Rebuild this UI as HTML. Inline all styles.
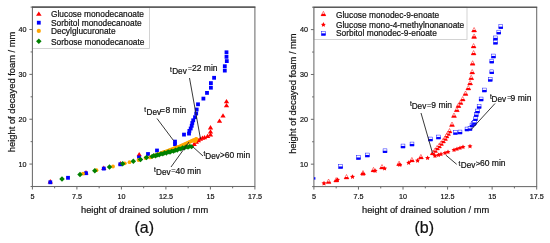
<!DOCTYPE html>
<html><head><meta charset="utf-8"><style>
html,body{margin:0;padding:0;background:#fff;}
svg{display:block;font-family:"Liberation Sans", sans-serif;will-change:transform;} text{stroke:#111;stroke-width:0.2px;fill:#111;}
</style></head><body>
<svg width="550" height="243" viewBox="0 0 550 243">
<rect width="550" height="243" fill="#fff"/>
<rect x="32.4" y="7.1" width="117.1" height="41.3" fill="#fff" stroke="#c8c8c8" stroke-width="0.8"/>
<rect x="313.9" y="7.2" width="153.10000000000002" height="32.199999999999996" fill="#fff" stroke="#c8c8c8" stroke-width="0.8"/>
<rect x="32.4" y="7.1" width="222.5" height="179.4" fill="none" stroke="#6a6a6a" stroke-width="1.05"/>
<line x1="31.9" y1="7.1" x2="255.4" y2="7.1" stroke="#4a4a4a" stroke-width="1.1"/>
<line x1="32.40" y1="186.5" x2="32.40" y2="189.5" stroke="#6a6a6a" stroke-width="1"/>
<text transform="translate(32.40,198.70) scale(0.9,1)" font-size="8" text-anchor="middle">5</text>
<line x1="54.65" y1="186.5" x2="54.65" y2="188.3" stroke="#6a6a6a" stroke-width="1"/>
<line x1="76.90" y1="186.5" x2="76.90" y2="189.5" stroke="#6a6a6a" stroke-width="1"/>
<text transform="translate(76.90,198.70) scale(0.9,1)" font-size="8" text-anchor="middle">7.5</text>
<line x1="99.15" y1="186.5" x2="99.15" y2="188.3" stroke="#6a6a6a" stroke-width="1"/>
<line x1="121.40" y1="186.5" x2="121.40" y2="189.5" stroke="#6a6a6a" stroke-width="1"/>
<text transform="translate(121.40,198.70) scale(0.9,1)" font-size="8" text-anchor="middle">10</text>
<line x1="143.65" y1="186.5" x2="143.65" y2="188.3" stroke="#6a6a6a" stroke-width="1"/>
<line x1="165.90" y1="186.5" x2="165.90" y2="189.5" stroke="#6a6a6a" stroke-width="1"/>
<text transform="translate(165.90,198.70) scale(0.9,1)" font-size="8" text-anchor="middle">12.5</text>
<line x1="188.15" y1="186.5" x2="188.15" y2="188.3" stroke="#6a6a6a" stroke-width="1"/>
<line x1="210.40" y1="186.5" x2="210.40" y2="189.5" stroke="#6a6a6a" stroke-width="1"/>
<text transform="translate(210.40,198.70) scale(0.9,1)" font-size="8" text-anchor="middle">15</text>
<line x1="232.65" y1="186.5" x2="232.65" y2="188.3" stroke="#6a6a6a" stroke-width="1"/>
<line x1="254.90" y1="186.5" x2="254.90" y2="189.5" stroke="#6a6a6a" stroke-width="1"/>
<text transform="translate(254.90,198.70) scale(0.9,1)" font-size="8" text-anchor="middle">17.5</text>
<line x1="30.599999999999998" y1="186.50" x2="32.4" y2="186.50" stroke="#6a6a6a" stroke-width="1"/>
<line x1="29.4" y1="164.07" x2="32.4" y2="164.07" stroke="#6a6a6a" stroke-width="1"/>
<text transform="translate(26.40,166.88) scale(0.9,1)" font-size="8" text-anchor="end">10</text>
<line x1="30.599999999999998" y1="141.65" x2="32.4" y2="141.65" stroke="#6a6a6a" stroke-width="1"/>
<line x1="29.4" y1="119.22" x2="32.4" y2="119.22" stroke="#6a6a6a" stroke-width="1"/>
<text transform="translate(26.40,122.02) scale(0.9,1)" font-size="8" text-anchor="end">20</text>
<line x1="30.599999999999998" y1="96.80" x2="32.4" y2="96.80" stroke="#6a6a6a" stroke-width="1"/>
<line x1="29.4" y1="74.37" x2="32.4" y2="74.37" stroke="#6a6a6a" stroke-width="1"/>
<text transform="translate(26.40,77.17) scale(0.9,1)" font-size="8" text-anchor="end">30</text>
<line x1="30.599999999999998" y1="51.95" x2="32.4" y2="51.95" stroke="#6a6a6a" stroke-width="1"/>
<line x1="29.4" y1="29.52" x2="32.4" y2="29.52" stroke="#6a6a6a" stroke-width="1"/>
<text transform="translate(26.40,32.32) scale(0.9,1)" font-size="8" text-anchor="end">40</text>
<line x1="30.599999999999998" y1="7.10" x2="32.4" y2="7.10" stroke="#6a6a6a" stroke-width="1"/>
<rect x="313.9" y="7.2" width="222.80000000000007" height="179.4" fill="none" stroke="#6a6a6a" stroke-width="1.05"/>
<line x1="313.4" y1="7.2" x2="537.2" y2="7.2" stroke="#4a4a4a" stroke-width="1.1"/>
<line x1="313.90" y1="186.6" x2="313.90" y2="189.6" stroke="#6a6a6a" stroke-width="1"/>
<text transform="translate(313.90,198.80) scale(0.9,1)" font-size="8" text-anchor="middle">5</text>
<line x1="336.18" y1="186.6" x2="336.18" y2="188.4" stroke="#6a6a6a" stroke-width="1"/>
<line x1="358.46" y1="186.6" x2="358.46" y2="189.6" stroke="#6a6a6a" stroke-width="1"/>
<text transform="translate(358.46,198.80) scale(0.9,1)" font-size="8" text-anchor="middle">7.5</text>
<line x1="380.74" y1="186.6" x2="380.74" y2="188.4" stroke="#6a6a6a" stroke-width="1"/>
<line x1="403.02" y1="186.6" x2="403.02" y2="189.6" stroke="#6a6a6a" stroke-width="1"/>
<text transform="translate(403.02,198.80) scale(0.9,1)" font-size="8" text-anchor="middle">10</text>
<line x1="425.30" y1="186.6" x2="425.30" y2="188.4" stroke="#6a6a6a" stroke-width="1"/>
<line x1="447.58" y1="186.6" x2="447.58" y2="189.6" stroke="#6a6a6a" stroke-width="1"/>
<text transform="translate(447.58,198.80) scale(0.9,1)" font-size="8" text-anchor="middle">12.5</text>
<line x1="469.86" y1="186.6" x2="469.86" y2="188.4" stroke="#6a6a6a" stroke-width="1"/>
<line x1="492.14" y1="186.6" x2="492.14" y2="189.6" stroke="#6a6a6a" stroke-width="1"/>
<text transform="translate(492.14,198.80) scale(0.9,1)" font-size="8" text-anchor="middle">15</text>
<line x1="514.42" y1="186.6" x2="514.42" y2="188.4" stroke="#6a6a6a" stroke-width="1"/>
<line x1="536.70" y1="186.6" x2="536.70" y2="189.6" stroke="#6a6a6a" stroke-width="1"/>
<text transform="translate(536.70,198.80) scale(0.9,1)" font-size="8" text-anchor="middle">17.5</text>
<line x1="312.09999999999997" y1="186.60" x2="313.9" y2="186.60" stroke="#6a6a6a" stroke-width="1"/>
<line x1="310.9" y1="164.17" x2="313.9" y2="164.17" stroke="#6a6a6a" stroke-width="1"/>
<text transform="translate(307.90,166.97) scale(0.9,1)" font-size="8" text-anchor="end">10</text>
<line x1="312.09999999999997" y1="141.75" x2="313.9" y2="141.75" stroke="#6a6a6a" stroke-width="1"/>
<line x1="310.9" y1="119.32" x2="313.9" y2="119.32" stroke="#6a6a6a" stroke-width="1"/>
<text transform="translate(307.90,122.12) scale(0.9,1)" font-size="8" text-anchor="end">20</text>
<line x1="312.09999999999997" y1="96.90" x2="313.9" y2="96.90" stroke="#6a6a6a" stroke-width="1"/>
<line x1="310.9" y1="74.47" x2="313.9" y2="74.47" stroke="#6a6a6a" stroke-width="1"/>
<text transform="translate(307.90,77.27) scale(0.9,1)" font-size="8" text-anchor="end">30</text>
<line x1="312.09999999999997" y1="52.05" x2="313.9" y2="52.05" stroke="#6a6a6a" stroke-width="1"/>
<line x1="310.9" y1="29.62" x2="313.9" y2="29.62" stroke="#6a6a6a" stroke-width="1"/>
<text transform="translate(307.90,32.42) scale(0.9,1)" font-size="8" text-anchor="end">40</text>
<line x1="312.09999999999997" y1="7.20" x2="313.9" y2="7.20" stroke="#6a6a6a" stroke-width="1"/>
<text x="144.6" y="213" font-size="9.3" text-anchor="middle" fill="#111" >height of drained solution / mm</text>
<text x="425.6" y="213" font-size="9.3" text-anchor="middle" fill="#111" >height of drained solution / mm</text>
<text transform="translate(15.2,91.9) rotate(-90)" font-size="9.36" text-anchor="middle" fill="#111">height of decayed foam / mm</text>
<text transform="translate(296.3,93.6) rotate(-90)" font-size="9.36" text-anchor="middle" fill="#111">height of decayed foam / mm</text>
<text x="144.2" y="232.8" font-size="16" text-anchor="middle" fill="#111" >(a)</text>
<text x="424.2" y="232.8" font-size="16" text-anchor="middle" fill="#111" >(b)</text>
<path d="M38.80 11.42L41.60 15.72L36.00 15.72Z" fill="#ff0000"/>
<text x="51" y="17.4" font-size="8.37" text-anchor="start" fill="#111" >Glucose monodecanoate</text>
<rect x="36.90" y="20.80" width="3.8" height="3.8" fill="#0000ff"/>
<text x="51" y="25.9" font-size="8.37" text-anchor="start" fill="#111" >Sorbitol monodecanoate</text>
<circle cx="38.80" cy="30.90" r="2.1" fill="#ffa500"/>
<text x="51" y="34.4" font-size="8.37" text-anchor="start" fill="#111" >Decylglucuronate</text>
<path d="M38.80 38.45L41.55 41.20L38.80 43.95L36.05 41.20Z" fill="#008000"/>
<text x="51" y="44.5" font-size="8.37" text-anchor="start" fill="#111" >Sorbose monodecanoate</text>
<path d="M323.40 11.31L325.70 15.66L321.10 15.66Z" fill="#fff" stroke="#ff0000" stroke-width="0.5" stroke-linejoin="miter"/>
<path d="M321.94 13.75L324.86 13.75L326.00 15.91L320.80 15.91Z" fill="#ff0000"/>
<text x="336" y="17.9" font-size="8.37" text-anchor="start" fill="#111" >Glucose monodec-9-enoate</text>
<polygon points="323.40,22.10 324.16,23.65 325.87,23.90 324.64,25.10 324.93,26.80 323.40,26.00 321.87,26.80 322.16,25.10 320.93,23.90 322.64,23.65" fill="#ff0000"/>
<text x="336" y="27.5" font-size="8.37" text-anchor="start" fill="#111" >Glucose mono-4-methylnonanoate</text>
<rect x="321.57" y="31.47" width="3.86" height="3.86" fill="#fff" stroke="#0000ff" stroke-width="0.45"/>
<rect x="321.35" y="33.35" width="4.30" height="2.20" fill="#0000ff"/>
<text x="336" y="35.5" font-size="8.37" text-anchor="start" fill="#111" >Sorbitol monodec-9-enoate</text>
<path d="M50.30 179.12L52.95 183.42L47.65 183.42Z" fill="#ff0000"/>
<path d="M86.00 170.12L88.65 174.42L83.35 174.42Z" fill="#ff0000"/>
<path d="M103.80 165.62L106.45 169.92L101.15 169.92Z" fill="#ff0000"/>
<path d="M120.50 161.02L123.15 165.32L117.85 165.32Z" fill="#ff0000"/>
<path d="M139.20 152.02L141.85 156.32L136.55 156.32Z" fill="#ff0000"/>
<path d="M194.20 141.62L196.85 145.92L191.55 145.92Z" fill="#ff0000"/>
<path d="M196.30 139.52L198.95 143.82L193.65 143.82Z" fill="#ff0000"/>
<path d="M198.40 138.02L201.05 142.32L195.75 142.32Z" fill="#ff0000"/>
<path d="M200.40 136.42L203.05 140.72L197.75 140.72Z" fill="#ff0000"/>
<path d="M202.50 135.42L205.15 139.72L199.85 139.72Z" fill="#ff0000"/>
<path d="M204.60 134.92L207.25 139.22L201.95 139.22Z" fill="#ff0000"/>
<path d="M207.60 133.82L210.25 138.12L204.95 138.12Z" fill="#ff0000"/>
<path d="M210.50 132.32L213.15 136.62L207.85 136.62Z" fill="#ff0000"/>
<path d="M210.50 129.22L213.15 133.52L207.85 133.52Z" fill="#ff0000"/>
<path d="M210.50 125.12L213.15 129.42L207.85 129.42Z" fill="#ff0000"/>
<path d="M219.50 118.42L222.15 122.72L216.85 122.72Z" fill="#ff0000"/>
<path d="M223.00 113.22L225.65 117.52L220.35 117.52Z" fill="#ff0000"/>
<path d="M226.50 102.92L229.15 107.22L223.85 107.22Z" fill="#ff0000"/>
<path d="M226.50 98.92L229.15 103.22L223.85 103.22Z" fill="#ff0000"/>
<rect x="48.40" y="180.40" width="3.8" height="3.8" fill="#0000ff"/>
<rect x="66.10" y="175.90" width="3.8" height="3.8" fill="#0000ff"/>
<rect x="84.10" y="171.30" width="3.8" height="3.8" fill="#0000ff"/>
<rect x="101.90" y="166.70" width="3.8" height="3.8" fill="#0000ff"/>
<rect x="118.40" y="162.40" width="3.8" height="3.8" fill="#0000ff"/>
<rect x="137.10" y="155.50" width="3.8" height="3.8" fill="#0000ff"/>
<rect x="146.10" y="152.10" width="3.8" height="3.8" fill="#0000ff"/>
<rect x="155.10" y="148.60" width="3.8" height="3.8" fill="#0000ff"/>
<rect x="173.10" y="139.70" width="3.8" height="3.8" fill="#0000ff"/>
<rect x="173.10" y="142.30" width="3.8" height="3.8" fill="#0000ff"/>
<rect x="182.10" y="132.70" width="3.8" height="3.8" fill="#0000ff"/>
<rect x="187.10" y="131.70" width="3.8" height="3.8" fill="#0000ff"/>
<rect x="187.50" y="129.00" width="3.8" height="3.8" fill="#0000ff"/>
<rect x="188.80" y="126.60" width="3.8" height="3.8" fill="#0000ff"/>
<rect x="189.80" y="123.90" width="3.8" height="3.8" fill="#0000ff"/>
<rect x="190.40" y="121.10" width="3.8" height="3.8" fill="#0000ff"/>
<rect x="191.30" y="118.40" width="3.8" height="3.8" fill="#0000ff"/>
<rect x="193.10" y="115.30" width="3.8" height="3.8" fill="#0000ff"/>
<rect x="194.30" y="111.60" width="3.8" height="3.8" fill="#0000ff"/>
<rect x="194.80" y="107.60" width="3.8" height="3.8" fill="#0000ff"/>
<rect x="196.10" y="102.40" width="3.8" height="3.8" fill="#0000ff"/>
<rect x="201.50" y="96.70" width="3.8" height="3.8" fill="#0000ff"/>
<rect x="205.10" y="91.00" width="3.8" height="3.8" fill="#0000ff"/>
<rect x="209.00" y="85.80" width="3.8" height="3.8" fill="#0000ff"/>
<rect x="209.00" y="81.20" width="3.8" height="3.8" fill="#0000ff"/>
<rect x="212.20" y="75.90" width="3.8" height="3.8" fill="#0000ff"/>
<rect x="222.90" y="68.70" width="3.8" height="3.8" fill="#0000ff"/>
<rect x="222.90" y="64.30" width="3.8" height="3.8" fill="#0000ff"/>
<rect x="224.90" y="59.20" width="3.8" height="3.8" fill="#0000ff"/>
<rect x="224.60" y="54.90" width="3.8" height="3.8" fill="#0000ff"/>
<rect x="224.60" y="50.40" width="3.8" height="3.8" fill="#0000ff"/>
<circle cx="83.00" cy="173.70" r="1.9" fill="#ffa500"/>
<circle cx="96.50" cy="170.20" r="1.9" fill="#ffa500"/>
<circle cx="113.00" cy="166.50" r="1.9" fill="#ffa500"/>
<circle cx="124.80" cy="163.30" r="1.9" fill="#ffa500"/>
<circle cx="129.50" cy="162.20" r="1.9" fill="#ffa500"/>
<circle cx="138.50" cy="160.00" r="1.9" fill="#ffa500"/>
<circle cx="145.50" cy="158.00" r="1.9" fill="#ffa500"/>
<circle cx="150.00" cy="157.40" r="1.9" fill="#ffa500"/>
<circle cx="151.30" cy="156.91" r="1.9" fill="#ffa500"/>
<circle cx="152.60" cy="156.41" r="1.9" fill="#ffa500"/>
<circle cx="153.90" cy="155.92" r="1.9" fill="#ffa500"/>
<circle cx="155.20" cy="155.42" r="1.9" fill="#ffa500"/>
<circle cx="156.50" cy="154.93" r="1.9" fill="#ffa500"/>
<circle cx="157.80" cy="154.44" r="1.9" fill="#ffa500"/>
<circle cx="159.10" cy="153.94" r="1.9" fill="#ffa500"/>
<circle cx="160.40" cy="153.45" r="1.9" fill="#ffa500"/>
<circle cx="161.70" cy="152.97" r="1.9" fill="#ffa500"/>
<circle cx="163.00" cy="152.49" r="1.9" fill="#ffa500"/>
<circle cx="164.30" cy="152.01" r="1.9" fill="#ffa500"/>
<circle cx="165.60" cy="151.53" r="1.9" fill="#ffa500"/>
<circle cx="166.90" cy="151.05" r="1.9" fill="#ffa500"/>
<circle cx="168.20" cy="150.57" r="1.9" fill="#ffa500"/>
<circle cx="169.50" cy="150.08" r="1.9" fill="#ffa500"/>
<circle cx="170.80" cy="149.61" r="1.9" fill="#ffa500"/>
<circle cx="172.10" cy="149.14" r="1.9" fill="#ffa500"/>
<circle cx="173.40" cy="148.68" r="1.9" fill="#ffa500"/>
<circle cx="174.70" cy="148.21" r="1.9" fill="#ffa500"/>
<circle cx="176.00" cy="147.74" r="1.9" fill="#ffa500"/>
<circle cx="177.30" cy="147.27" r="1.9" fill="#ffa500"/>
<circle cx="178.60" cy="146.80" r="1.9" fill="#ffa500"/>
<circle cx="179.90" cy="146.34" r="1.9" fill="#ffa500"/>
<circle cx="181.20" cy="145.76" r="1.9" fill="#ffa500"/>
<circle cx="182.50" cy="145.17" r="1.9" fill="#ffa500"/>
<circle cx="183.80" cy="144.59" r="1.9" fill="#ffa500"/>
<circle cx="185.10" cy="144.00" r="1.9" fill="#ffa500"/>
<circle cx="186.40" cy="143.41" r="1.9" fill="#ffa500"/>
<circle cx="187.70" cy="142.81" r="1.9" fill="#ffa500"/>
<circle cx="189.00" cy="142.20" r="1.9" fill="#ffa500"/>
<circle cx="190.30" cy="141.59" r="1.9" fill="#ffa500"/>
<circle cx="191.60" cy="140.99" r="1.9" fill="#ffa500"/>
<circle cx="192.90" cy="140.46" r="1.9" fill="#ffa500"/>
<circle cx="194.20" cy="139.97" r="1.9" fill="#ffa500"/>
<circle cx="195.50" cy="139.49" r="1.9" fill="#ffa500"/>
<circle cx="195.60" cy="139.40" r="1.9" fill="#ffa500"/>
<circle cx="196.40" cy="139.00" r="1.9" fill="#ffa500"/>
<circle cx="195.20" cy="141.20" r="1.9" fill="#ffa500"/>
<path d="M62.00 176.15L64.75 178.90L62.00 181.65L59.25 178.90Z" fill="#008000"/>
<path d="M80.00 171.75L82.75 174.50L80.00 177.25L77.25 174.50Z" fill="#008000"/>
<path d="M94.80 168.05L97.55 170.80L94.80 173.55L92.05 170.80Z" fill="#008000"/>
<path d="M109.50 164.25L112.25 167.00L109.50 169.75L106.75 167.00Z" fill="#008000"/>
<path d="M122.70 161.05L125.45 163.80L122.70 166.55L119.95 163.80Z" fill="#008000"/>
<path d="M133.30 158.45L136.05 161.20L133.30 163.95L130.55 161.20Z" fill="#008000"/>
<path d="M140.50 156.75L143.25 159.50L140.50 162.25L137.75 159.50Z" fill="#008000"/>
<path d="M146.50 154.75L149.25 157.50L146.50 160.25L143.75 157.50Z" fill="#008000"/>
<path d="M152.00 154.00L154.55 156.55L152.00 159.10L149.45 156.55Z" fill="#008000"/>
<path d="M153.80 152.98L156.35 155.53L153.80 158.08L151.25 155.53Z" fill="#008000"/>
<path d="M155.60 153.35L158.15 155.90L155.60 158.45L153.05 155.90Z" fill="#008000"/>
<path d="M157.40 152.29L159.95 154.84L157.40 157.39L154.85 154.84Z" fill="#008000"/>
<path d="M159.20 152.48L161.75 155.03L159.20 157.58L156.65 155.03Z" fill="#008000"/>
<path d="M161.00 151.27L163.55 153.82L161.00 156.37L158.45 153.82Z" fill="#008000"/>
<path d="M162.80 151.46L165.35 154.01L162.80 156.56L160.25 154.01Z" fill="#008000"/>
<path d="M164.60 150.29L167.15 152.84L164.60 155.39L162.05 152.84Z" fill="#008000"/>
<path d="M166.40 150.53L168.95 153.08L166.40 155.63L163.85 153.08Z" fill="#008000"/>
<path d="M168.20 149.36L170.75 151.91L168.20 154.46L165.65 151.91Z" fill="#008000"/>
<path d="M170.00 149.60L172.55 152.15L170.00 154.70L167.45 152.15Z" fill="#008000"/>
<path d="M171.80 148.47L174.35 151.02L171.80 153.57L169.25 151.02Z" fill="#008000"/>
<path d="M173.60 148.74L176.15 151.29L173.60 153.84L171.05 151.29Z" fill="#008000"/>
<path d="M175.40 147.56L177.95 150.11L175.40 152.66L172.85 150.11Z" fill="#008000"/>
<path d="M177.20 147.61L179.75 150.16L177.20 152.71L174.65 150.16Z" fill="#008000"/>
<path d="M179.00 146.26L181.55 148.81L179.00 151.36L176.45 148.81Z" fill="#008000"/>
<path d="M180.80 146.39L183.35 148.94L180.80 151.49L178.25 148.94Z" fill="#008000"/>
<path d="M182.60 145.21L185.15 147.76L182.60 150.31L180.05 147.76Z" fill="#008000"/>
<path d="M184.40 145.43L186.95 147.98L184.40 150.53L181.85 147.98Z" fill="#008000"/>
<path d="M186.20 144.26L188.75 146.81L186.20 149.36L183.65 146.81Z" fill="#008000"/>
<path d="M188.00 144.65L190.55 147.20L188.00 149.75L185.45 147.20Z" fill="#008000"/>
<path d="M189.80 143.63L192.35 146.18L189.80 148.73L187.25 146.18Z" fill="#008000"/>
<path d="M191.60 144.20L194.15 146.75L191.60 149.30L189.05 146.75Z" fill="#008000"/>
<clipPath id="cr"><rect x="313.9" y="7.2" width="222.80000000000007" height="179.4"/></clipPath>
<g clip-path="url(#cr)">
<path d="M474.10 27.51L476.40 31.86L471.80 31.86Z" fill="#fff" stroke="#ff0000" stroke-width="0.5" stroke-linejoin="miter"/>
<path d="M472.64 29.95L475.56 29.95L476.70 32.11L471.50 32.11Z" fill="#ff0000"/>
<path d="M474.10 33.91L476.40 38.26L471.80 38.26Z" fill="#fff" stroke="#ff0000" stroke-width="0.5" stroke-linejoin="miter"/>
<path d="M472.64 36.35L475.56 36.35L476.70 38.51L471.50 38.51Z" fill="#ff0000"/>
<path d="M473.60 43.51L475.90 47.86L471.30 47.86Z" fill="#fff" stroke="#ff0000" stroke-width="0.5" stroke-linejoin="miter"/>
<path d="M472.14 45.95L475.06 45.95L476.20 48.11L471.00 48.11Z" fill="#ff0000"/>
<path d="M473.60 50.51L475.90 54.86L471.30 54.86Z" fill="#fff" stroke="#ff0000" stroke-width="0.5" stroke-linejoin="miter"/>
<path d="M472.14 52.95L475.06 52.95L476.20 55.11L471.00 55.11Z" fill="#ff0000"/>
<path d="M472.60 60.71L474.90 65.06L470.30 65.06Z" fill="#fff" stroke="#ff0000" stroke-width="0.5" stroke-linejoin="miter"/>
<path d="M471.14 63.15L474.06 63.15L475.20 65.31L470.00 65.31Z" fill="#ff0000"/>
<path d="M472.20 69.51L474.50 73.86L469.90 73.86Z" fill="#fff" stroke="#ff0000" stroke-width="0.5" stroke-linejoin="miter"/>
<path d="M470.74 71.95L473.66 71.95L474.80 74.11L469.60 74.11Z" fill="#ff0000"/>
<path d="M471.20 75.21L473.50 79.56L468.90 79.56Z" fill="#fff" stroke="#ff0000" stroke-width="0.5" stroke-linejoin="miter"/>
<path d="M469.74 77.65L472.66 77.65L473.80 79.81L468.60 79.81Z" fill="#ff0000"/>
<path d="M470.10 80.51L472.40 84.86L467.80 84.86Z" fill="#fff" stroke="#ff0000" stroke-width="0.5" stroke-linejoin="miter"/>
<path d="M468.64 82.95L471.56 82.95L472.70 85.11L467.50 85.11Z" fill="#ff0000"/>
<path d="M468.30 85.51L470.60 89.86L466.00 89.86Z" fill="#fff" stroke="#ff0000" stroke-width="0.5" stroke-linejoin="miter"/>
<path d="M466.84 87.95L469.76 87.95L470.90 90.11L465.70 90.11Z" fill="#ff0000"/>
<path d="M465.50 91.01L467.80 95.36L463.20 95.36Z" fill="#fff" stroke="#ff0000" stroke-width="0.5" stroke-linejoin="miter"/>
<path d="M464.04 93.45L466.96 93.45L468.10 95.61L462.90 95.61Z" fill="#ff0000"/>
<path d="M462.70 96.51L465.00 100.86L460.40 100.86Z" fill="#fff" stroke="#ff0000" stroke-width="0.5" stroke-linejoin="miter"/>
<path d="M461.24 98.95L464.16 98.95L465.30 101.11L460.10 101.11Z" fill="#ff0000"/>
<path d="M460.50 100.01L462.80 104.36L458.20 104.36Z" fill="#fff" stroke="#ff0000" stroke-width="0.5" stroke-linejoin="miter"/>
<path d="M459.04 102.45L461.96 102.45L463.10 104.61L457.90 104.61Z" fill="#ff0000"/>
<path d="M458.40 103.11L460.70 107.46L456.10 107.46Z" fill="#fff" stroke="#ff0000" stroke-width="0.5" stroke-linejoin="miter"/>
<path d="M456.94 105.55L459.86 105.55L461.00 107.71L455.80 107.71Z" fill="#ff0000"/>
<path d="M456.80 107.21L459.10 111.56L454.50 111.56Z" fill="#fff" stroke="#ff0000" stroke-width="0.5" stroke-linejoin="miter"/>
<path d="M455.34 109.65L458.26 109.65L459.40 111.81L454.20 111.81Z" fill="#ff0000"/>
<path d="M454.00 113.01L456.30 117.36L451.70 117.36Z" fill="#fff" stroke="#ff0000" stroke-width="0.5" stroke-linejoin="miter"/>
<path d="M452.54 115.45L455.46 115.45L456.60 117.61L451.40 117.61Z" fill="#ff0000"/>
<path d="M452.00 122.01L454.30 126.36L449.70 126.36Z" fill="#fff" stroke="#ff0000" stroke-width="0.5" stroke-linejoin="miter"/>
<path d="M450.54 124.45L453.46 124.45L454.60 126.61L449.40 126.61Z" fill="#ff0000"/>
<path d="M449.50 128.51L451.80 132.86L447.20 132.86Z" fill="#fff" stroke="#ff0000" stroke-width="0.5" stroke-linejoin="miter"/>
<path d="M448.04 130.95L450.96 130.95L452.10 133.11L446.90 133.11Z" fill="#ff0000"/>
<path d="M448.00 131.01L450.30 135.36L445.70 135.36Z" fill="#fff" stroke="#ff0000" stroke-width="0.5" stroke-linejoin="miter"/>
<path d="M446.54 133.45L449.46 133.45L450.60 135.61L445.40 135.61Z" fill="#ff0000"/>
<path d="M446.50 133.51L448.80 137.86L444.20 137.86Z" fill="#fff" stroke="#ff0000" stroke-width="0.5" stroke-linejoin="miter"/>
<path d="M445.04 135.95L447.96 135.95L449.10 138.11L443.90 138.11Z" fill="#ff0000"/>
<path d="M445.00 136.01L447.30 140.36L442.70 140.36Z" fill="#fff" stroke="#ff0000" stroke-width="0.5" stroke-linejoin="miter"/>
<path d="M443.54 138.45L446.46 138.45L447.60 140.61L442.40 140.61Z" fill="#ff0000"/>
<path d="M443.00 138.51L445.30 142.86L440.70 142.86Z" fill="#fff" stroke="#ff0000" stroke-width="0.5" stroke-linejoin="miter"/>
<path d="M441.54 140.95L444.46 140.95L445.60 143.11L440.40 143.11Z" fill="#ff0000"/>
<path d="M441.00 141.01L443.30 145.36L438.70 145.36Z" fill="#fff" stroke="#ff0000" stroke-width="0.5" stroke-linejoin="miter"/>
<path d="M439.54 143.45L442.46 143.45L443.60 145.61L438.40 145.61Z" fill="#ff0000"/>
<path d="M439.00 143.51L441.30 147.86L436.70 147.86Z" fill="#fff" stroke="#ff0000" stroke-width="0.5" stroke-linejoin="miter"/>
<path d="M437.54 145.95L440.46 145.95L441.60 148.11L436.40 148.11Z" fill="#ff0000"/>
<path d="M437.00 145.51L439.30 149.86L434.70 149.86Z" fill="#fff" stroke="#ff0000" stroke-width="0.5" stroke-linejoin="miter"/>
<path d="M435.54 147.95L438.46 147.95L439.60 150.11L434.40 150.11Z" fill="#ff0000"/>
<path d="M435.00 148.01L437.30 152.36L432.70 152.36Z" fill="#fff" stroke="#ff0000" stroke-width="0.5" stroke-linejoin="miter"/>
<path d="M433.54 150.45L436.46 150.45L437.60 152.61L432.40 152.61Z" fill="#ff0000"/>
<path d="M432.80 150.31L435.10 154.66L430.50 154.66Z" fill="#fff" stroke="#ff0000" stroke-width="0.5" stroke-linejoin="miter"/>
<path d="M431.34 152.75L434.26 152.75L435.40 154.91L430.20 154.91Z" fill="#ff0000"/>
<path d="M420.90 154.41L423.20 158.76L418.60 158.76Z" fill="#fff" stroke="#ff0000" stroke-width="0.5" stroke-linejoin="miter"/>
<path d="M419.44 156.85L422.36 156.85L423.50 159.01L418.30 159.01Z" fill="#ff0000"/>
<path d="M411.90 157.41L414.20 161.76L409.60 161.76Z" fill="#fff" stroke="#ff0000" stroke-width="0.5" stroke-linejoin="miter"/>
<path d="M410.44 159.85L413.36 159.85L414.50 162.01L409.30 162.01Z" fill="#ff0000"/>
<path d="M399.10 161.11L401.40 165.46L396.80 165.46Z" fill="#fff" stroke="#ff0000" stroke-width="0.5" stroke-linejoin="miter"/>
<path d="M397.64 163.55L400.56 163.55L401.70 165.71L396.50 165.71Z" fill="#ff0000"/>
<path d="M382.00 164.51L384.30 168.86L379.70 168.86Z" fill="#fff" stroke="#ff0000" stroke-width="0.5" stroke-linejoin="miter"/>
<path d="M380.54 166.95L383.46 166.95L384.60 169.11L379.40 169.11Z" fill="#ff0000"/>
<path d="M373.50 167.31L375.80 171.66L371.20 171.66Z" fill="#fff" stroke="#ff0000" stroke-width="0.5" stroke-linejoin="miter"/>
<path d="M372.04 169.75L374.96 169.75L376.10 171.91L370.90 171.91Z" fill="#ff0000"/>
<path d="M363.00 170.51L365.30 174.86L360.70 174.86Z" fill="#fff" stroke="#ff0000" stroke-width="0.5" stroke-linejoin="miter"/>
<path d="M361.54 172.95L364.46 172.95L365.60 175.11L360.40 175.11Z" fill="#ff0000"/>
<path d="M346.50 174.51L348.80 178.86L344.20 178.86Z" fill="#fff" stroke="#ff0000" stroke-width="0.5" stroke-linejoin="miter"/>
<path d="M345.04 176.95L347.96 176.95L349.10 179.11L343.90 179.11Z" fill="#ff0000"/>
<path d="M336.20 177.51L338.50 181.86L333.90 181.86Z" fill="#fff" stroke="#ff0000" stroke-width="0.5" stroke-linejoin="miter"/>
<path d="M334.74 179.95L337.66 179.95L338.80 182.11L333.60 182.11Z" fill="#ff0000"/>
<path d="M328.60 179.01L330.90 183.36L326.30 183.36Z" fill="#fff" stroke="#ff0000" stroke-width="0.5" stroke-linejoin="miter"/>
<path d="M327.14 181.45L330.06 181.45L331.20 183.61L326.00 183.61Z" fill="#ff0000"/>
<polygon points="324.00,180.80 324.76,182.35 326.47,182.60 325.24,183.80 325.53,185.50 324.00,184.70 322.47,185.50 322.76,183.80 321.53,182.60 323.24,182.35" fill="#ff0000"/>
<polygon points="337.50,177.20 338.26,178.75 339.97,179.00 338.74,180.20 339.03,181.90 337.50,181.10 335.97,181.90 336.26,180.20 335.03,179.00 336.74,178.75" fill="#ff0000"/>
<polygon points="352.50,174.20 353.26,175.75 354.97,176.00 353.74,177.20 354.03,178.90 352.50,178.10 350.97,178.90 351.26,177.20 350.03,176.00 351.74,175.75" fill="#ff0000"/>
<polygon points="363.00,171.20 363.76,172.75 365.47,173.00 364.24,174.20 364.53,175.90 363.00,175.10 361.47,175.90 361.76,174.20 360.53,173.00 362.24,172.75" fill="#ff0000"/>
<polygon points="375.10,168.20 375.86,169.75 377.57,170.00 376.34,171.20 376.63,172.90 375.10,172.10 373.57,172.90 373.86,171.20 372.63,170.00 374.34,169.75" fill="#ff0000"/>
<polygon points="384.60,165.90 385.36,167.45 387.07,167.70 385.84,168.90 386.13,170.60 384.60,169.80 383.07,170.60 383.36,168.90 382.13,167.70 383.84,167.45" fill="#ff0000"/>
<polygon points="399.80,162.20 400.56,163.75 402.27,164.00 401.04,165.20 401.33,166.90 399.80,166.10 398.27,166.90 398.56,165.20 397.33,164.00 399.04,163.75" fill="#ff0000"/>
<polygon points="408.70,160.20 409.46,161.75 411.17,162.00 409.94,163.20 410.23,164.90 408.70,164.10 407.17,164.90 407.46,163.20 406.23,162.00 407.94,161.75" fill="#ff0000"/>
<polygon points="417.60,158.00 418.36,159.55 420.07,159.80 418.84,161.00 419.13,162.70 417.60,161.90 416.07,162.70 416.36,161.00 415.13,159.80 416.84,159.55" fill="#ff0000"/>
<polygon points="427.60,155.40 428.36,156.95 430.07,157.20 428.84,158.40 429.13,160.10 427.60,159.30 426.07,160.10 426.36,158.40 425.13,157.20 426.84,156.95" fill="#ff0000"/>
<polygon points="435.00,153.40 435.76,154.95 437.47,155.20 436.24,156.40 436.53,158.10 435.00,157.30 433.47,158.10 433.76,156.40 432.53,155.20 434.24,154.95" fill="#ff0000"/>
<polygon points="438.50,152.40 439.26,153.95 440.97,154.20 439.74,155.40 440.03,157.10 438.50,156.30 436.97,157.10 437.26,155.40 436.03,154.20 437.74,153.95" fill="#ff0000"/>
<polygon points="441.00,151.60 441.76,153.15 443.47,153.40 442.24,154.60 442.53,156.30 441.00,155.50 439.47,156.30 439.76,154.60 438.53,153.40 440.24,153.15" fill="#ff0000"/>
<polygon points="445.00,150.40 445.76,151.95 447.47,152.20 446.24,153.40 446.53,155.10 445.00,154.30 443.47,155.10 443.76,153.40 442.53,152.20 444.24,151.95" fill="#ff0000"/>
<polygon points="448.00,149.40 448.76,150.95 450.47,151.20 449.24,152.40 449.53,154.10 448.00,153.30 446.47,154.10 446.76,152.40 445.53,151.20 447.24,150.95" fill="#ff0000"/>
<polygon points="454.00,147.40 454.76,148.95 456.47,149.20 455.24,150.40 455.53,152.10 454.00,151.30 452.47,152.10 452.76,150.40 451.53,149.20 453.24,148.95" fill="#ff0000"/>
<polygon points="457.00,146.40 457.76,147.95 459.47,148.20 458.24,149.40 458.53,151.10 457.00,150.30 455.47,151.10 455.76,149.40 454.53,148.20 456.24,147.95" fill="#ff0000"/>
<polygon points="460.00,145.40 460.76,146.95 462.47,147.20 461.24,148.40 461.53,150.10 460.00,149.30 458.47,150.10 458.76,148.40 457.53,147.20 459.24,146.95" fill="#ff0000"/>
<polygon points="463.00,144.40 463.76,145.95 465.47,146.20 464.24,147.40 464.53,149.10 463.00,148.30 461.47,149.10 461.76,147.40 460.53,146.20 462.24,145.95" fill="#ff0000"/>
<polygon points="470.00,143.70 470.76,145.25 472.47,145.50 471.24,146.70 471.53,148.40 470.00,147.60 468.47,148.40 468.76,146.70 467.53,145.50 469.24,145.25" fill="#ff0000"/>
<rect x="338.77" y="164.57" width="3.86" height="3.86" fill="#fff" stroke="#0000ff" stroke-width="0.45"/>
<rect x="338.55" y="166.45" width="4.30" height="2.20" fill="#0000ff"/>
<rect x="356.57" y="155.57" width="3.86" height="3.86" fill="#fff" stroke="#0000ff" stroke-width="0.45"/>
<rect x="356.35" y="157.45" width="4.30" height="2.20" fill="#0000ff"/>
<rect x="365.37" y="153.07" width="3.86" height="3.86" fill="#fff" stroke="#0000ff" stroke-width="0.45"/>
<rect x="365.15" y="154.95" width="4.30" height="2.20" fill="#0000ff"/>
<rect x="383.07" y="148.87" width="3.86" height="3.86" fill="#fff" stroke="#0000ff" stroke-width="0.45"/>
<rect x="382.85" y="150.75" width="4.30" height="2.20" fill="#0000ff"/>
<rect x="401.07" y="144.07" width="3.86" height="3.86" fill="#fff" stroke="#0000ff" stroke-width="0.45"/>
<rect x="400.85" y="145.95" width="4.30" height="2.20" fill="#0000ff"/>
<rect x="410.07" y="142.07" width="3.86" height="3.86" fill="#fff" stroke="#0000ff" stroke-width="0.45"/>
<rect x="409.85" y="143.95" width="4.30" height="2.20" fill="#0000ff"/>
<rect x="428.57" y="137.07" width="3.86" height="3.86" fill="#fff" stroke="#0000ff" stroke-width="0.45"/>
<rect x="428.35" y="138.95" width="4.30" height="2.20" fill="#0000ff"/>
<rect x="436.57" y="135.07" width="3.86" height="3.86" fill="#fff" stroke="#0000ff" stroke-width="0.45"/>
<rect x="436.35" y="136.95" width="4.30" height="2.20" fill="#0000ff"/>
<rect x="453.57" y="130.57" width="3.86" height="3.86" fill="#fff" stroke="#0000ff" stroke-width="0.45"/>
<rect x="453.35" y="132.45" width="4.30" height="2.20" fill="#0000ff"/>
<rect x="458.07" y="130.07" width="3.86" height="3.86" fill="#fff" stroke="#0000ff" stroke-width="0.45"/>
<rect x="457.85" y="131.95" width="4.30" height="2.20" fill="#0000ff"/>
<rect x="465.07" y="127.07" width="3.86" height="3.86" fill="#fff" stroke="#0000ff" stroke-width="0.45"/>
<rect x="464.85" y="128.95" width="4.30" height="2.20" fill="#0000ff"/>
<rect x="468.07" y="126.57" width="3.86" height="3.86" fill="#fff" stroke="#0000ff" stroke-width="0.45"/>
<rect x="467.85" y="128.45" width="4.30" height="2.20" fill="#0000ff"/>
<rect x="470.07" y="123.07" width="3.86" height="3.86" fill="#fff" stroke="#0000ff" stroke-width="0.45"/>
<rect x="469.85" y="124.95" width="4.30" height="2.20" fill="#0000ff"/>
<rect x="471.77" y="121.77" width="3.86" height="3.86" fill="#fff" stroke="#0000ff" stroke-width="0.45"/>
<rect x="471.55" y="123.65" width="4.30" height="2.20" fill="#0000ff"/>
<rect x="472.57" y="120.57" width="3.86" height="3.86" fill="#fff" stroke="#0000ff" stroke-width="0.45"/>
<rect x="472.35" y="122.45" width="4.30" height="2.20" fill="#0000ff"/>
<rect x="473.47" y="116.87" width="3.86" height="3.86" fill="#fff" stroke="#0000ff" stroke-width="0.45"/>
<rect x="473.25" y="118.75" width="4.30" height="2.20" fill="#0000ff"/>
<rect x="474.27" y="112.77" width="3.86" height="3.86" fill="#fff" stroke="#0000ff" stroke-width="0.45"/>
<rect x="474.05" y="114.65" width="4.30" height="2.20" fill="#0000ff"/>
<rect x="475.57" y="109.07" width="3.86" height="3.86" fill="#fff" stroke="#0000ff" stroke-width="0.45"/>
<rect x="475.35" y="110.95" width="4.30" height="2.20" fill="#0000ff"/>
<rect x="477.17" y="104.47" width="3.86" height="3.86" fill="#fff" stroke="#0000ff" stroke-width="0.45"/>
<rect x="476.95" y="106.35" width="4.30" height="2.20" fill="#0000ff"/>
<rect x="479.17" y="97.07" width="3.86" height="3.86" fill="#fff" stroke="#0000ff" stroke-width="0.45"/>
<rect x="478.95" y="98.95" width="4.30" height="2.20" fill="#0000ff"/>
<rect x="482.47" y="88.07" width="3.86" height="3.86" fill="#fff" stroke="#0000ff" stroke-width="0.45"/>
<rect x="482.25" y="89.95" width="4.30" height="2.20" fill="#0000ff"/>
<rect x="488.27" y="77.37" width="3.86" height="3.86" fill="#fff" stroke="#0000ff" stroke-width="0.45"/>
<rect x="488.05" y="79.25" width="4.30" height="2.20" fill="#0000ff"/>
<rect x="489.87" y="69.87" width="3.86" height="3.86" fill="#fff" stroke="#0000ff" stroke-width="0.45"/>
<rect x="489.65" y="71.75" width="4.30" height="2.20" fill="#0000ff"/>
<rect x="489.87" y="59.17" width="3.86" height="3.86" fill="#fff" stroke="#0000ff" stroke-width="0.45"/>
<rect x="489.65" y="61.05" width="4.30" height="2.20" fill="#0000ff"/>
<rect x="491.57" y="54.07" width="3.86" height="3.86" fill="#fff" stroke="#0000ff" stroke-width="0.45"/>
<rect x="491.35" y="55.95" width="4.30" height="2.20" fill="#0000ff"/>
<rect x="493.57" y="40.27" width="3.86" height="3.86" fill="#fff" stroke="#0000ff" stroke-width="0.45"/>
<rect x="493.35" y="42.15" width="4.30" height="2.20" fill="#0000ff"/>
<rect x="493.57" y="35.97" width="3.86" height="3.86" fill="#fff" stroke="#0000ff" stroke-width="0.45"/>
<rect x="493.35" y="37.85" width="4.30" height="2.20" fill="#0000ff"/>
<rect x="496.87" y="30.17" width="3.86" height="3.86" fill="#fff" stroke="#0000ff" stroke-width="0.45"/>
<rect x="496.65" y="32.05" width="4.30" height="2.20" fill="#0000ff"/>
<rect x="498.87" y="24.77" width="3.86" height="3.86" fill="#fff" stroke="#0000ff" stroke-width="0.45"/>
<rect x="498.65" y="26.65" width="4.30" height="2.20" fill="#0000ff"/>
</g>
<rect x="314.1" y="177.2" width="1.3" height="2.4" fill="#0000ff"/>
<line x1="157" y1="118.5" x2="173.5" y2="140.5" stroke="#222" stroke-width="0.9"/>
<line x1="189.5" y1="78" x2="200.5" y2="139" stroke="#222" stroke-width="0.9"/>
<line x1="171" y1="167" x2="189" y2="142" stroke="#222" stroke-width="0.9"/>
<line x1="192.5" y1="146.5" x2="203" y2="156" stroke="#222" stroke-width="0.9"/>
<line x1="421" y1="113" x2="432.5" y2="153" stroke="#222" stroke-width="0.9"/>
<line x1="495" y1="103.5" x2="471.2" y2="129.5" stroke="#222" stroke-width="0.9"/>
<line x1="445.8" y1="155.1" x2="456.7" y2="164.3" stroke="#222" stroke-width="0.9"/>
<text x="170.1" y="71.5" font-size="6.5">t</text>
<text x="172.2" y="73.6" font-size="8.2">Dev</text>
<text x="187.9" y="71.0" font-size="6.6">=</text>
<text x="192.0" y="71.4" font-size="8.5">22 min</text>
<text x="144.2" y="111.9" font-size="6.5">t</text>
<text x="146.5" y="114.7" font-size="8.2">Dev</text>
<text x="160.0" y="113.3" font-size="8.4">=</text>
<text x="165.5" y="113.0" font-size="8.5">8 min</text>
<text x="153.9" y="171.7" font-size="6.5">t</text>
<text x="156.0" y="174.6" font-size="8.2">Dev</text>
<text x="171.2" y="173.1" font-size="7.4">=</text>
<text x="175.5" y="173.9" font-size="8.5">40 min</text>
<text x="203.6" y="156.3" font-size="6.5">t</text>
<text x="205.3" y="159.4" font-size="8.2">Dev</text>
<text x="220.0" y="158.1" font-size="8.2">&gt;</text>
<text x="224.7" y="157.8" font-size="8.5">60 min</text>
<text x="410.1" y="106.3" font-size="6.5">t</text>
<text x="411.7" y="109.0" font-size="8.2">Dev</text>
<text x="427.0" y="107.6" font-size="7.0">=</text>
<text x="431.3" y="107.5" font-size="8.5">9 min</text>
<text x="490.0" y="99.3" font-size="6.5">t</text>
<text x="491.5" y="102.0" font-size="8.2">Dev</text>
<text x="507.3" y="100.2" font-size="7.0">=</text>
<text x="510.6" y="100.5" font-size="8.5">9 min</text>
<text x="458.6" y="166.0" font-size="6.5">t</text>
<text x="460.8" y="168.0" font-size="8.2">Dev</text>
<text x="475.8" y="165.8" font-size="7.8">&gt;</text>
<text x="480.0" y="166.0" font-size="8.5">60 min</text>
</svg>
</body></html>
